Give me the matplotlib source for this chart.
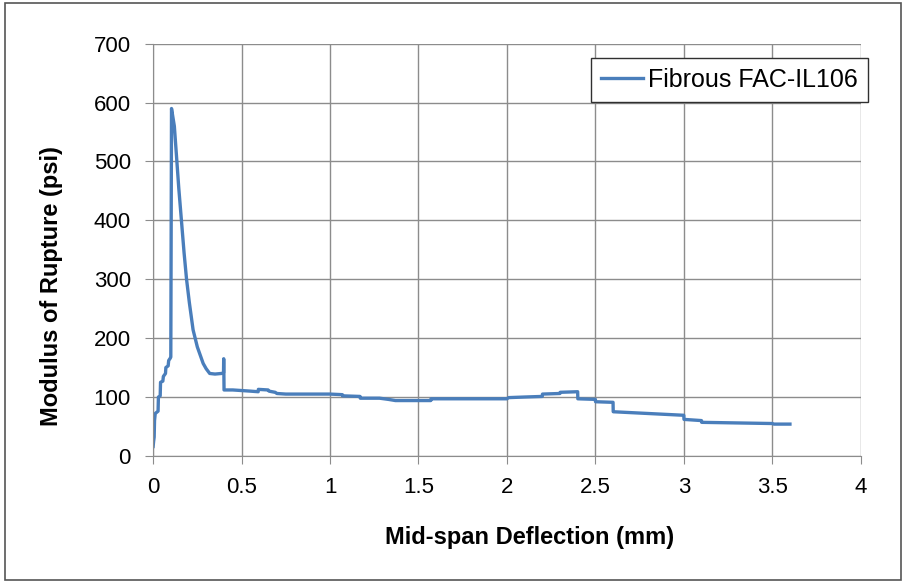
import matplotlib
matplotlib.use("Agg")
import matplotlib.pyplot as plt
from matplotlib.patches import Rectangle

plt.rcParams["font.family"] = ["Liberation Sans", "DejaVu Sans"]

deflection = [0.0, 0.003, 0.006, 0.008, 0.012, 0.02, 0.028, 0.03, 0.04, 0.042, 0.055, 0.058,
              0.07, 0.072, 0.085, 0.088, 0.097, 0.100, 0.104,
              0.12, 0.132, 0.145, 0.160, 0.175, 0.189, 0.205, 0.226, 0.25, 0.283, 0.30, 0.32,
              0.35, 0.386, 0.398, 0.399, 0.40, 0.401,
              0.45, 0.50, 0.55, 0.594, 0.595, 0.65, 0.655, 0.69, 0.70, 0.75, 0.76,
              1.0, 1.07, 1.071, 1.17, 1.171, 1.28, 1.33, 1.37, 1.57, 1.571,
              1.8, 2.0, 2.01, 2.1, 2.2, 2.201, 2.3, 2.301, 2.4, 2.401, 2.5, 2.501, 2.6, 2.601,
              2.8, 3.0, 3.001, 3.1, 3.101, 3.3, 3.5, 3.51, 3.6]
mor = [16, 25, 32, 60, 72, 74, 76, 100, 102, 125, 127, 135,
       140, 150, 153, 162, 166, 168, 590,
       560, 510, 455, 400, 345, 300, 260, 214, 185, 157, 148, 140,
       139, 140, 141, 165, 140, 112,
       112, 111, 110, 109, 113, 112, 110, 108, 106, 105, 105,
       105, 104, 102, 101, 98, 98, 96, 94, 94, 97,
       97, 97, 99, 100, 101, 105, 106, 108, 109, 97, 96, 92, 91, 75,
       72, 69, 62, 60, 57, 56, 55, 54, 54]

x_ticks = [0, 0.5, 1, 1.5, 2, 2.5, 3, 3.5, 4]
x_tick_labels = ["0", "0.5", "1", "1.5", "2", "2.5", "3", "3.5", "4"]
y_ticks = [0, 100, 200, 300, 400, 500, 600, 700]

fig = plt.figure(figsize=(9.06, 5.83), dpi=100)
fig.patches.append(Rectangle((0.006, 0.006), 0.988, 0.988, transform=fig.transFigure,
                             fill=False, edgecolor="#555555", linewidth=1.2))
ax = fig.add_axes([0.169, 0.218, 0.781, 0.707])

ax.plot(deflection, mor, color="#4A7EBB", linewidth=2.4, label="Fibrous FAC-IL106")

ax.set_xlim(0, 4)
ax.set_ylim(0, 700)
ax.set_xticks(x_ticks)
ax.set_xticklabels(x_tick_labels)
ax.set_yticks(y_ticks)
ax.grid(True, color="#8c8c8c", linewidth=1.0)
ax.set_axisbelow(True)
for side in ("top", "right"):
    ax.spines[side].set_visible(False)
for side in ("left", "bottom"):
    ax.spines[side].set_color("#8c8c8c")
ax.tick_params(direction="out", length=6, color="#8c8c8c", labelsize=16)
ax.tick_params(axis="x", pad=9)
ax.tick_params(axis="y", pad=10)

ax.set_xlabel("Mid-span Deflection (mm)", fontsize=17, fontweight="bold", va="center")
ax.set_ylabel("Modulus of Rupture (psi)", fontsize=17, fontweight="bold", va="center")
ax.xaxis.set_label_coords(0.532, -0.199)
ax.yaxis.set_label_coords(-0.143, 0.411)

leg = ax.legend(loc="upper right", bbox_to_anchor=(868 / 906, 1 - 58 / 583),
                bbox_transform=fig.transFigure, borderaxespad=0,
                fontsize=18, fancybox=False, framealpha=1, edgecolor="#303030",
                handlelength=1.7, handletextpad=0.2, borderpad=0.4)
leg.get_frame().set_linewidth(1.0)

fig.savefig("out.png", dpi=100)
